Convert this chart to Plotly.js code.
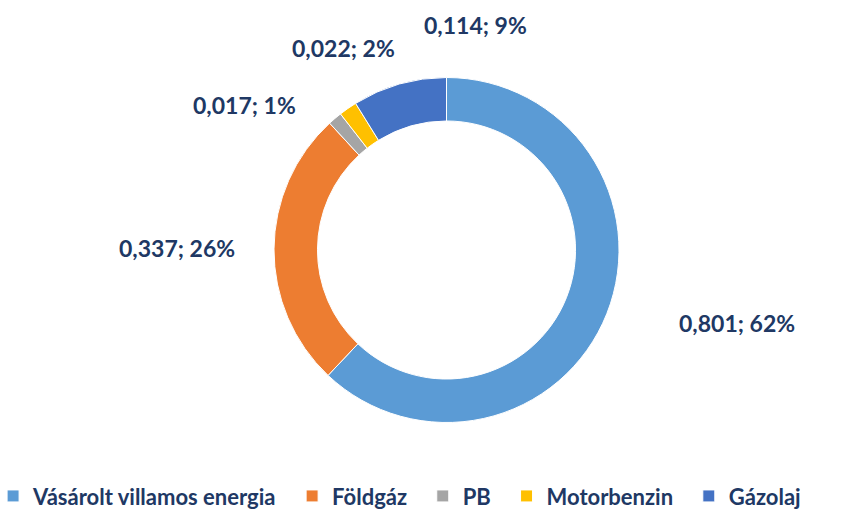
<!DOCTYPE html>
<html>
<head>
<meta charset="utf-8">
<script src="https://cdn.plot.ly/plotly-3.0.1.min.js"></script>
<style>html,body{margin:0;padding:0;background:#fff;}#chart{width:865px;height:511px;}</style>
</head>
<body>
<div id="chart"></div>
<script>
// Data
const categories = ["Vásárolt villamos energia", "Földgáz", "PB", "Motorbenzin", "Gázolaj"];
const values = [0.801, 0.337, 0.017, 0.022, 0.114];
const colors = ["#5B9BD5", "#ED7D31", "#A5A5A5", "#FFC000", "#4472C4"];

// Label offsets (pixels, from the slice's outer edge midpoint) – styling only
const labelOffsets = [[130, 9], [-97, -1], [-90, -13], [-4, -60], [76, -59]];

const W = 865, H = 511;
const domX = [274 / W, 619 / W];
const domY = [(H - 422.5) / H, (H - 77.5) / H];
const textColor = "#203864";
const fontFam = "Lato, 'Open Sans', sans-serif";
const legendPad = '\u00A0\u00A0';

const total = values.reduce((a, b) => a + b, 0);
function fmt(v) { return v.toFixed(3).replace('.', ','); }

// annotation positions derived from slice angles
const cx = (domX[0] + domX[1]) / 2 * W;
const cyPx = H - (domY[0] + domY[1]) / 2 * H;
const R = Math.min((domX[1] - domX[0]) * W, (domY[1] - domY[0]) * H) / 2;
let cum = 0;
const annotations = values.map((v, i) => {
  const mid = (cum + v / 2) / total;
  cum += v;
  const th = mid * 2 * Math.PI;
  const px = cx + R * Math.sin(th) + labelOffsets[i][0];
  const py = cyPx - R * Math.cos(th) + labelOffsets[i][1];
  return {
    x: px / W, y: 1 - py / H, xref: 'paper', yref: 'paper',
    xanchor: 'center', yanchor: 'middle', showarrow: false,
    text: fmt(v) + '; ' + Math.round(v / total * 100) + '%',
    font: { family: fontFam, size: 23, color: textColor, weight: 700 }
  };
});

const trace = {
  type: 'pie',
  labels: categories.map(c => c + legendPad),
  values: values,
  hole: 0.748,
  sort: false,
  direction: 'clockwise',
  rotation: 0,
  textinfo: 'none',
  hoverinfo: 'label+value+percent',
  marker: { colors: colors, line: { color: '#ffffff', width: 1 } },
  domain: { x: domX, y: domY }
};

const layout = {
  width: W, height: H,
  margin: { l: 0, r: 0, t: 0, b: 0, autoexpand: false },
  paper_bgcolor: '#ffffff',
  showlegend: true,
  legend: {
    orientation: 'h', x: -0.008, xanchor: 'left', y: -0.012, yanchor: 'bottom',
    font: { family: fontFam, size: 22, color: textColor, weight: 700 },
    itemwidth: 30
  },
  annotations: annotations
};

Plotly.newPlot('chart', [trace], layout, { displayModeBar: false, staticPlot: true });
</script>
</body>
</html>
